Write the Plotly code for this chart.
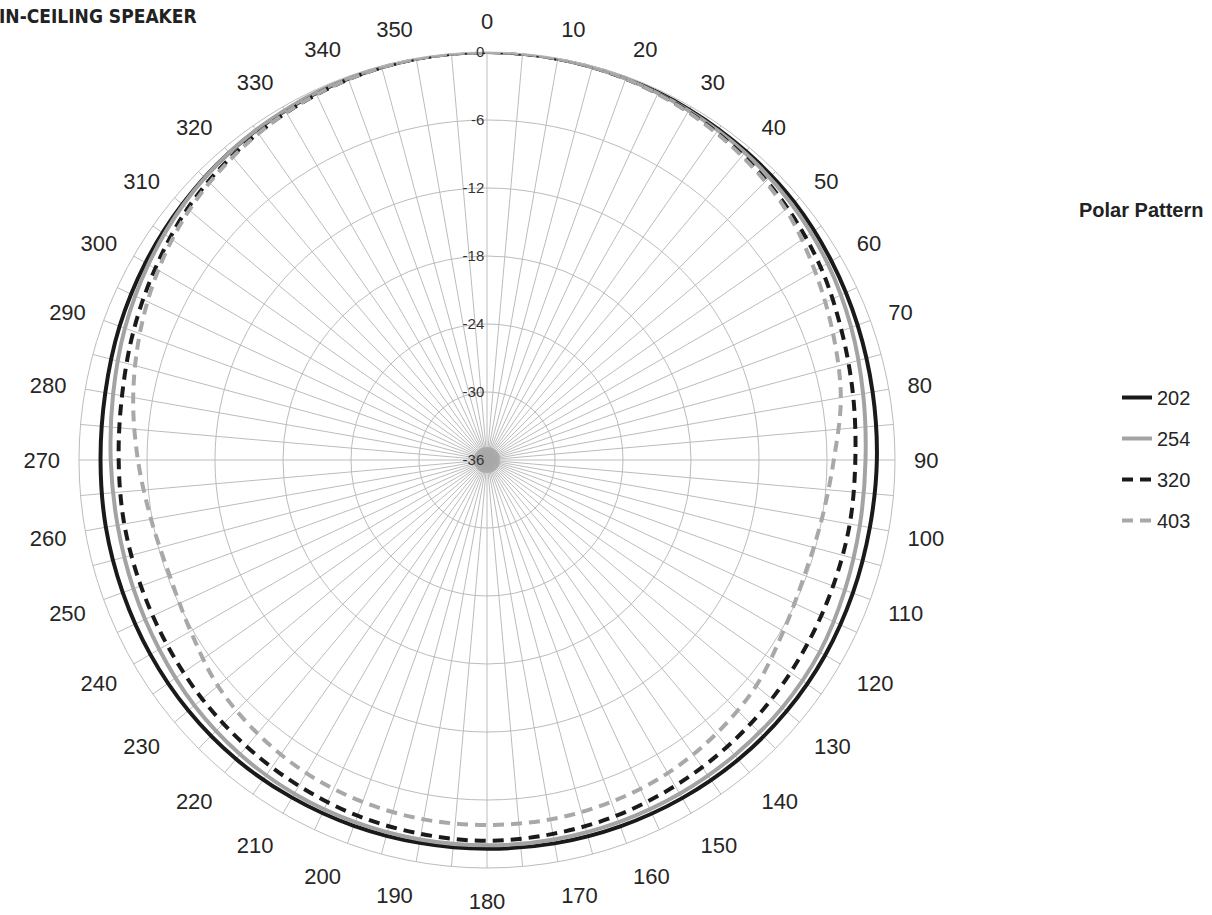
import plotly.graph_objects as go

# ---- data (dB relative to on-axis), angles in degrees ----
angles = list(range(0, 360, 10))
s202 = [0, -0.05, -0.15, -0.3, -0.45, -0.6, -0.9, -1.2, -1.45, -1.6, -1.7, -1.65,
        -1.55, -1.5, -1.5, -1.55, -1.6, -1.65, -1.7, -1.7, -1.65, -1.6, -1.55, -1.6,
        -1.7, -1.8, -1.85, -1.9, -1.8, -1.5, -1.2, -0.9, -0.6, -0.4, -0.2, -0.05]
s254 = [0, -0.05, -0.2, -0.4, -0.6, -0.9, -1.3, -1.8, -2.3, -2.6, -2.6, -2.4,
        -2.1, -2.0, -2.0, -2.0, -2.0, -2.0, -2.0, -2.0, -2.0, -2.0, -2.1, -2.3,
        -2.6, -2.8, -2.9, -2.8, -2.5, -2.0, -1.5, -1.0, -0.6, -0.35, -0.15, -0.05]
s320 = [0, -0.05, -0.2, -0.5, -0.9, -1.4, -2.0, -2.7, -3.2, -3.5, -3.5, -3.5,
        -3.4, -3.2, -3.0, -2.8, -2.6, -2.5, -2.4, -2.5, -2.6, -2.8, -3.0, -3.2,
        -3.4, -3.5, -3.5, -3.5, -3.3, -2.8, -2.2, -1.5, -1.0, -0.6, -0.25, -0.05]
s403 = [0, -0.05, -0.2, -0.55, -1.0, -1.6, -2.6, -3.5, -4.3, -5.4, -6.0, -6.2,
        -5.8, -5.0, -4.5, -4.1, -3.9, -3.8, -3.8, -3.8, -3.9, -4.1, -4.5, -5.0,
        -5.8, -6.2, -5.9, -5.2, -4.3, -3.4, -2.5, -1.7, -1.1, -0.6, -0.25, -0.05]

series_names = ["202", "254", "320", "403"]
series_vals = [s202, s254, s320, s403]
series_colors = ["#1a1a1a", "#a3a3a3", "#1a1a1a", "#a8a8a8"]
series_dash = ["solid", "solid", "11px,7px", "11px,7px"]

radial_ticks = [-36, -30, -24, -18, -12, -6, 0]
angle_ticks = list(range(0, 360, 5))
angle_text = [str(a) if a % 10 == 0 else "" for a in angle_ticks]

fig = go.Figure()
# gray hub where the spokes converge
fig.add_trace(go.Scatterpolar(
    r=[radial_ticks[0]], theta=[0], mode="markers", showlegend=False, hoverinfo="skip",
    marker=dict(size=26, color="rgba(160,160,160,0.75)", line=dict(width=0)),
))
for i, (name, vals, col, dash) in enumerate(zip(series_names, series_vals, series_colors, series_dash)):
    fig.add_trace(go.Scatterpolar(
        r=vals + [vals[0]], theta=angles + [angles[0]], mode="lines", name=name,
        line=dict(color=col, width=4, dash=dash, shape="spline", smoothing=1.0),
        legendgroup=name,
    ))

W, H = 1212, 915
cx, cy, R = 487, 460, 408
fig.update_layout(
    width=W, height=H,
    margin=dict(l=0, r=0, t=0, b=0),
    paper_bgcolor="white", plot_bgcolor="white",
    font=dict(family="Liberation Sans, Arial, sans-serif", color="#262626"),
    polar=dict(
        domain=dict(x=[(cx - R) / W, (cx + R) / W], y=[1 - (cy + R) / H, 1 - (cy - R) / H]),
        bgcolor="white",
        angularaxis=dict(
            rotation=90, direction="clockwise",
            tickmode="array", tickvals=angle_ticks, ticktext=angle_text,
            tickfont=dict(size=22, color="#262626"),
            gridcolor="#bcbcbc", gridwidth=1,
            showline=True, linecolor="#bcbcbc", linewidth=1,
            ticks="outside", ticklen=14, tickcolor="rgba(0,0,0,0)",
        ),
        radialaxis=dict(
            range=[-36, 0], tickmode="array", tickvals=radial_ticks,
            ticktext=[str(v) for v in radial_ticks],
            tickfont=dict(size=15, color="#333333"),
            angle=90, tickangle=90, side="counterclockwise",
            gridcolor="#bcbcbc", gridwidth=1,
            showline=False, ticks="",
        ),
    ),
    showlegend=True,
    legend=dict(
        x=1117 / W, xanchor="left", y=1 - 378 / H, yanchor="top",
        font=dict(size=20, color="#262626"),
        traceorder="grouped", tracegroupgap=12,
        bgcolor="rgba(0,0,0,0)",
    ),
    annotations=[
        dict(text="<b>IN-CEILING SPEAKER</b>", x=-3 / W, y=1 - 3 / H, xref="paper", yref="paper",
             xanchor="left", yanchor="top", showarrow=False,
             font=dict(size=19, color="#222222",
                       family="Liberation Sans Narrow, DejaVu Sans Condensed, Arial Narrow, sans-serif")),
        dict(text="<b>Polar Pattern</b>", x=1205 / W, y=1 - 210 / H, xref="paper", yref="paper",
             xanchor="right", yanchor="middle", showarrow=False,
             font=dict(size=20, color="#222222", family="Liberation Sans, Arial, sans-serif")),
    ],
)

fig.write_html("out.html")
